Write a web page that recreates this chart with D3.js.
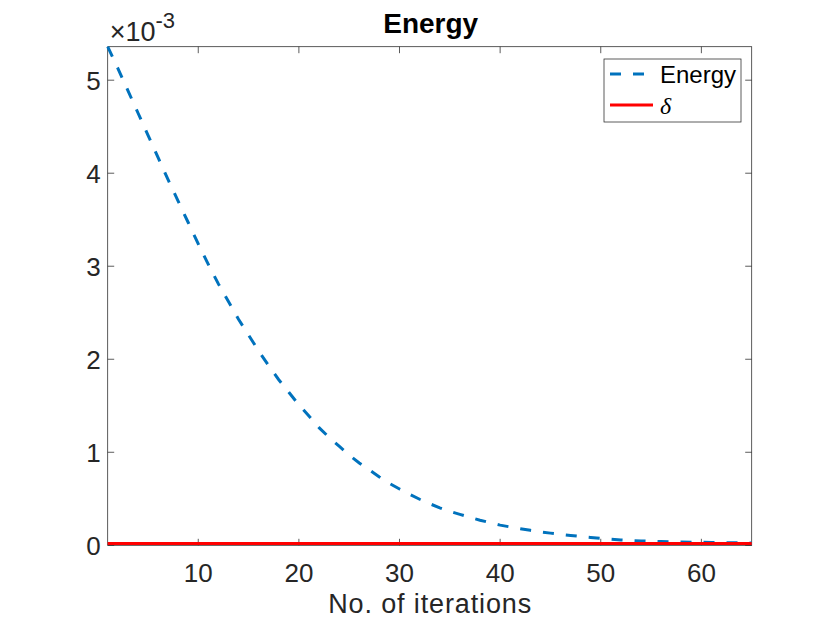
<!DOCTYPE html>
<html>
<head>
<meta charset="utf-8">
<script src="https://cdn.jsdelivr.net/npm/d3@7"></script>
<style>
  html, body { margin: 0; padding: 0; background: #fff; }
  svg { display: block; }
  text { font-family: "Liberation Sans", Arial, Helvetica, sans-serif; fill: #262626; }
</style>
</head>
<body>
<div id="chart"></div>
<script>
// Energy per iteration, in units of 1e-3
const iterations = d3.range(1, 66);
const energy = [
  5.36, 5.13, 4.89, 4.65, 4.41, 4.17, 3.93, 3.70, 3.47, 3.24,
  3.02, 2.81, 2.62, 2.43, 2.26, 2.09, 1.93, 1.78, 1.645, 1.51,
  1.39, 1.265, 1.16, 1.065, 0.97, 0.885, 0.81, 0.735, 0.665, 0.605,
  0.548, 0.495, 0.447, 0.403, 0.365, 0.333, 0.300, 0.270, 0.243, 0.217,
  0.197, 0.178, 0.161, 0.145, 0.131, 0.118, 0.106, 0.095, 0.085, 0.076,
  0.066, 0.058, 0.052, 0.047, 0.043, 0.040, 0.038, 0.036, 0.034, 0.032,
  0.030, 0.028, 0.027, 0.026, 0.025
];
// stopping threshold delta (same units)
const delta = 0.02;

const xTicks = [10, 20, 30, 40, 50, 60];
const yTicks = [0, 1, 2, 3, 4, 5];

const width = 830;
const height = 623;
const margin = { top: 46.7, right: 78.3, bottom: 77.7, left: 107.7 };
const innerWidth = width - margin.left - margin.right;
const innerHeight = height - margin.top - margin.bottom;
const axisColor = "#262626";
const tickLen = 6.5;

const svg = d3.select("#chart")
  .append("svg")
  .attr("width", width)
  .attr("height", height);

const g = svg.append("g")
  .attr("transform", `translate(${margin.left},${margin.top})`);

const x = d3.scaleLinear().domain([1, 65]).range([0, innerWidth]);
const y = d3.scaleLinear().domain([0, d3.max(energy)]).range([innerHeight, 0]);

// box
g.append("rect")
  .attr("width", innerWidth)
  .attr("height", innerHeight)
  .attr("fill", "none")
  .attr("stroke", axisColor)
  .attr("stroke-width", 0.75);

// ticks (inside, on all four sides)
xTicks.forEach((t) => {
  g.append("line")
    .attr("x1", x(t)).attr("x2", x(t))
    .attr("y1", innerHeight).attr("y2", innerHeight - tickLen)
    .attr("stroke", axisColor).attr("stroke-width", 0.75);
  g.append("line")
    .attr("x1", x(t)).attr("x2", x(t))
    .attr("y1", 0).attr("y2", tickLen)
    .attr("stroke", axisColor).attr("stroke-width", 0.75);
  g.append("text")
    .attr("x", x(t))
    .attr("y", innerHeight + 36.8)
    .attr("text-anchor", "middle")
    .attr("font-size", 26)
    .text(t);
});

yTicks.forEach((t) => {
  g.append("line")
    .attr("x1", 0).attr("x2", tickLen)
    .attr("y1", y(t)).attr("y2", y(t))
    .attr("stroke", axisColor).attr("stroke-width", 0.75);
  g.append("line")
    .attr("x1", innerWidth).attr("x2", innerWidth - tickLen)
    .attr("y1", y(t)).attr("y2", y(t))
    .attr("stroke", axisColor).attr("stroke-width", 0.75);
  g.append("text")
    .attr("x", -7)
    .attr("y", y(t))
    .attr("dy", "0.36em")
    .attr("text-anchor", "end")
    .attr("font-size", 26)
    .text(t);
});

// exponent label
const expo = g.append("text")
  .attr("x", 2)
  .attr("y", -6)
  .attr("font-size", 27);
expo.append("tspan").text("\u00d710");
expo.append("tspan").attr("dy", -13).attr("font-size", 22).text("-3");

// axis label and title
g.append("text")
  .attr("x", innerWidth / 2)
  .attr("y", innerHeight + 68)
  .attr("text-anchor", "middle")
  .attr("font-size", 27)
  .attr("textLength", 203)
  .attr("lengthAdjust", "spacing")
  .text("No. of iterations");

g.append("text")
  .attr("x", innerWidth / 2 + 1)
  .attr("y", 33 - margin.top)
  .attr("text-anchor", "middle")
  .attr("font-size", 28)
  .attr("font-weight", "bold")
  .style("fill", "#000")
  .text("Energy");

// lines
const line = d3.line()
  .x((d, i) => x(iterations[i]))
  .y((d) => y(d));

g.append("path")
  .datum(energy)
  .attr("d", line)
  .attr("fill", "none")
  .attr("stroke", "#0072BD")
  .attr("stroke-width", 3)
  .attr("stroke-dasharray", "11,12");

g.append("line")
  .attr("x1", x(1)).attr("x2", x(65))
  .attr("y1", y(delta)).attr("y2", y(delta))
  .attr("stroke", "#FF0000")
  .attr("stroke-width", 3);

// legend
const lg = svg.append("g").attr("transform", "translate(604,59)");
lg.append("rect")
  .attr("width", 137)
  .attr("height", 63)
  .attr("fill", "#fff")
  .attr("stroke", axisColor)
  .attr("stroke-width", 0.75);

lg.append("line")
  .attr("x1", 6).attr("x2", 49)
  .attr("y1", 15).attr("y2", 15)
  .attr("stroke", "#0072BD").attr("stroke-width", 3)
  .attr("stroke-dasharray", "11,12");
lg.append("text")
  .attr("x", 56).attr("y", 15).attr("dy", "0.36em")
  .attr("font-size", 24)
  .style("fill", "#000")
  .text("Energy");

lg.append("line")
  .attr("x1", 6).attr("x2", 49)
  .attr("y1", 46).attr("y2", 46)
  .attr("stroke", "#FF0000").attr("stroke-width", 3);
lg.append("text")
  .attr("x", 56).attr("y", 46).attr("dy", "0.36em")
  .attr("font-size", 24)
  .attr("font-style", "italic")
  .style("font-family", "'Liberation Serif', 'DejaVu Serif', serif")
  .style("fill", "#000")
  .text("\u03b4");
</script>
</body>
</html>
